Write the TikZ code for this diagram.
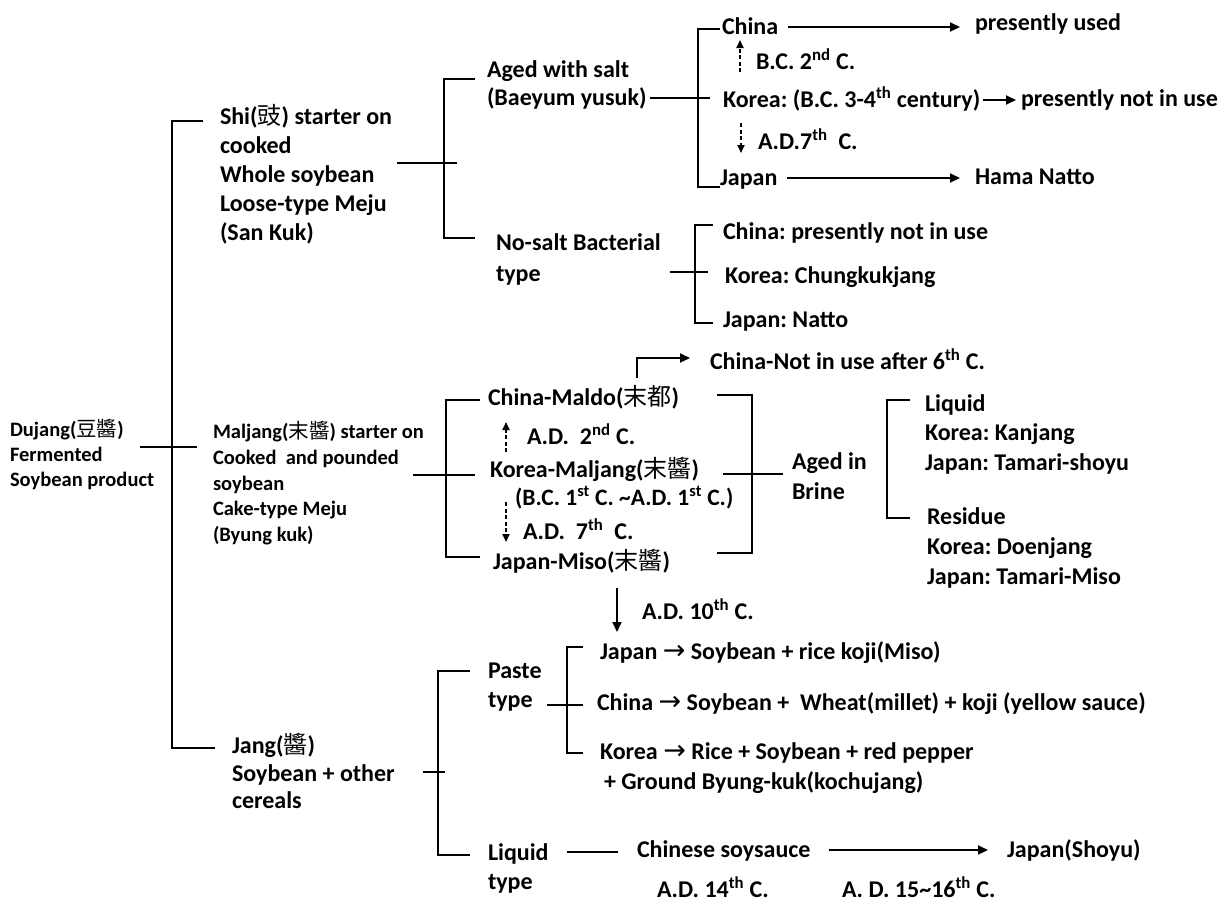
\documentclass[tikz,border=0pt]{standalone}
\usepackage{fontspec}
\setmainfont{Carlito}
\newfontfamily\cjk{Noto Sans CJK TC}
\newfontfamily\sym{DejaVu Sans}
\usetikzlibrary{arrows.meta}
\frenchspacing
\newcommand\fs[2]{\fontsize{#1}{#2}\selectfont\bfseries}
\newcommand\st{\vrule width 0pt height .765\baselineskip depth .235\baselineskip}
\newcommand\nl{\\\st}
\newcommand\cj[1]{{\cjk\mdseries #1}}
\newcommand\ra{{\sym\mdseries\fontsize{27}{29}\selectfont →}}
\newcommand\su[1]{\textsuperscript{#1}}
\tikzset{
  tx/.style={anchor=west, inner sep=0pt, outer sep=0pt, align=left, font=\fs{24}{29}},
  sm/.style={font=\fs{20.5}{25}},
  ln/.style={line width=1.8pt, draw=black},
  arr/.style={ln, -{Triangle[length=10pt,width=9pt]}},
  darr/.style={line width=1.7pt, draw=black, dash pattern=on 4pt off 2.5pt, -{Triangle[length=8pt,width=7pt]}},
}
\begin{document}
\begin{tikzpicture}[x=1pt,y=-1pt]
\fill[white] (0,0) rectangle (1229,903);
\useasboundingbox (0,0) rectangle (1229,903);

% ---------- nodes ----------
\node[tx,sm] (root) at (10,455) {\st Dujang(\cj{豆醬})\nl Fermented\nl Soybean product};
\node[tx] (shi) at (220,175) {\st Shi(\cj{豉}) starter on\nl cooked\nl Whole soybean\nl Loose-type Meju\nl (San Kuk)};
\node[tx,font=\fs{24}{28}] (aged) at (487,84) {\st Aged with salt\nl (Baeyum yusuk)};
\node[tx] (cn1) at (722,27) {\st China};
\node[tx] (used) at (975,23) {\st presently used};
\node[tx] (bc2) at (756,62) {\st B.C. 2\su{nd} C.};
\node[tx] (kr1) at (723,100) {\st Korea: (B.C. 3-4\su{th} century)};
\node[tx] (notuse) at (1021,99) {\st presently not in use};
\node[tx] (ad7) at (758,142) {\st A.D.7\su{th}\ \ C.};
\node[tx] (jp1) at (720,178) {\st Japan};
\node[tx] (hama) at (975,177) {\st Hama Natto};
\node[tx,font=\fs{24}{31}] (nosalt) at (496,257.5) {\st No-salt Bacterial\nl type};
\node[tx] (cn2) at (723,232) {\st China: presently not in use};
\node[tx] (kr2) at (725,276) {\st Korea: Chungkukjang};
\node[tx] (jp2) at (723,320) {\st Japan: Natto};

\node[tx,font=\fs{20.5}{25.75}] (maljang) at (213,483.4) {\st Maljang(\cj{末醬}) starter on\nl Cooked\ \ and pounded\nl soybean\nl Cake-type Meju\nl (Byung kuk)};
\node[tx] (maldo) at (488,398) {\st China-Maldo(\cj{末都})};
\node[tx] (ad2) at (527,437) {\st A.D.\ \ 2\su{nd} C.};
\node[tx,font=\fs{24}{22}] (kmal) at (490,470) {\st Korea-Maljang(\cj{末醬})};
\node[tx,font=\fs{23.5}{21}] (bc1) at (515,498) {\st (B.C. 1\su{st} C. \textasciitilde A.D. 1\su{st} C.)};
\node[tx] (ad7b) at (523,532) {\st A.D.\ \ 7\su{th}\ \ C.};
\node[tx] (miso) at (493,562) {\st Japan-Miso(\cj{末醬})};
\node[tx] (notafter) at (710,362) {\st China-Not in use after 6\su{th} C.};
\node[tx,font=\fs{24}{30}] (brine) at (792,477) {\st Aged in\nl Brine};
\node[tx,font=\fs{24}{29.5}] (liquid) at (925,432.7) {\st Liquid\nl Korea: Kanjang\nl Japan: Tamari-shoyu};
\node[tx,font=\fs{24}{30}] (residue) at (927,547) {\st Residue\nl Korea: Doenjang\nl Japan: Tamari-Miso};

\node[tx] (ad10) at (642,612) {\st A.D. 10\su{th} C.};
\node[tx,font=\fs{24}{27.5}] (jang) at (232,774) {\st Jang(\cj{醬})\nl Soybean + other\nl cereals};
\node[tx] (paste) at (488,685.5) {\st Paste\nl type};
\node[tx] (pjp) at (600,652) {\st Japan \ra{} Soybean + rice koji(Miso)};
\node[tx] (pcn) at (597,703) {\st China \ra{} Soybean +\ \ Wheat(millet) + koji (yellow sauce)};
\node[tx,font=\fs{24}{30}] (pkr) at (600,767) {\st Korea \ra{} Rice + Soybean + red pepper\nl\hspace{4pt}+ Ground Byung-kuk(kochujang)};
\node[tx] (liq) at (488,867.5) {\st Liquid\nl type};
\node[tx] (cns) at (637,850) {\st Chinese soysauce};
\node[tx] (shoyu) at (1007,850) {\st Japan(Shoyu)};
\node[tx] (ad14) at (657,890) {\st A.D. 14\su{th} C.};
\node[tx] (ad1516) at (842,890) {\st A. D. 15\textasciitilde 16\su{th} C.};

% ---------- bracket coordinates ----------
\coordinate (r1) at (140,447); \coordinate (r2) at (197,447);
\coordinate (tX) at (172,0); \coordinate (tA) at (203,121); \coordinate (tB) at (215,748);
\coordinate (sX) at (444,0); \coordinate (sA) at (475,79); \coordinate (sB) at (475,238);
\coordinate (s1) at (397,163); \coordinate (s2) at (457,163);
\coordinate (aX) at (698,0); \coordinate (aA) at (720,29); \coordinate (aB) at (720,187);
\coordinate (a1) at (650,98); \coordinate (a2) at (710,98);
\coordinate (nX) at (695,0); \coordinate (nA) at (713,225); \coordinate (nB) at (713,323);
\coordinate (n1) at (670,272); \coordinate (n2) at (708,272);
\coordinate (mX) at (446,0); \coordinate (mA) at (480,400); \coordinate (mB) at (480,557);
\coordinate (m1) at (413,475); \coordinate (m2) at (475,475);
\coordinate (bX) at (752,0); \coordinate (bA) at (717,395); \coordinate (bB) at (717,553);
\coordinate (b1) at (723,474); \coordinate (b2) at (783,474);
\coordinate (lX) at (887,0); \coordinate (lA) at (910,400); \coordinate (lB) at (910,518);
\coordinate (jX) at (438,0); \coordinate (jA) at (470,671); \coordinate (jB) at (470,855);
\coordinate (j1) at (423,772); \coordinate (j2) at (445,772);
\coordinate (pX) at (567,0); \coordinate (pA) at (583,647); \coordinate (pB) at (583,753);
\coordinate (p1) at (547,705); \coordinate (p2) at (583,705);
\coordinate (q1) at (567,852); \coordinate (q2) at (618,852);

% ---------- brackets ----------
\draw[ln] (r1) -- (r2);
\foreach \X/\A/\B in {t/tA/tB, s/sA/sB, a/aA/aB, n/nA/nB, m/mA/mB, b/bA/bB, l/lA/lB, j/jA/jB, p/pA/pB}
  \draw[ln] (\A) -- (\A -| \X X) -- (\B -| \X X) -- (\B);
\foreach \P/\Q in {s1/s2, a1/a2, n1/n2, m1/m2, b1/b2, j1/j2, p1/p2, q1/q2}
  \draw[ln] (\P) -- (\Q);

% ---------- arrows ----------
\draw[arr] ([xshift=10pt]cn1.east) -- ([xshift=-15pt]cn1.east -| used.west);
\draw[arr] ([xshift=3pt]kr1.east) -- ([xshift=-5pt]kr1.east -| notuse.west);
\draw[arr] ([xshift=10pt]jp1.east) -- ([xshift=-15pt]jp1.east -| hama.west);
\draw[arr] ([xshift=18pt]cns.east) -- ([xshift=-19pt]cns.east -| shoyu.west);

\coordinate (d1a) at (740,72);  \coordinate (d1b) at (740,40);
\coordinate (d2a) at (741,123); \coordinate (d2b) at (741,153);
\coordinate (d3a) at (506,452); \coordinate (d3b) at (506,422);
\coordinate (d4a) at (506,502); \coordinate (d4b) at (506,542);
\draw[darr] (d1a) -- (d1b);
\draw[darr] (d2a) -- (d2b);
\draw[darr] (d3a) -- (d3b);
\draw[darr] (d4a) -- (d4b);

\coordinate (e1) at (617,588); \coordinate (e2) at (617,632);
\draw[arr] (e1) -- (e2);

\coordinate (c1) at (637,378); \coordinate (c2) at (690,358);
\draw[arr] (c1) |- (c2);
\end{tikzpicture}
\end{document}
